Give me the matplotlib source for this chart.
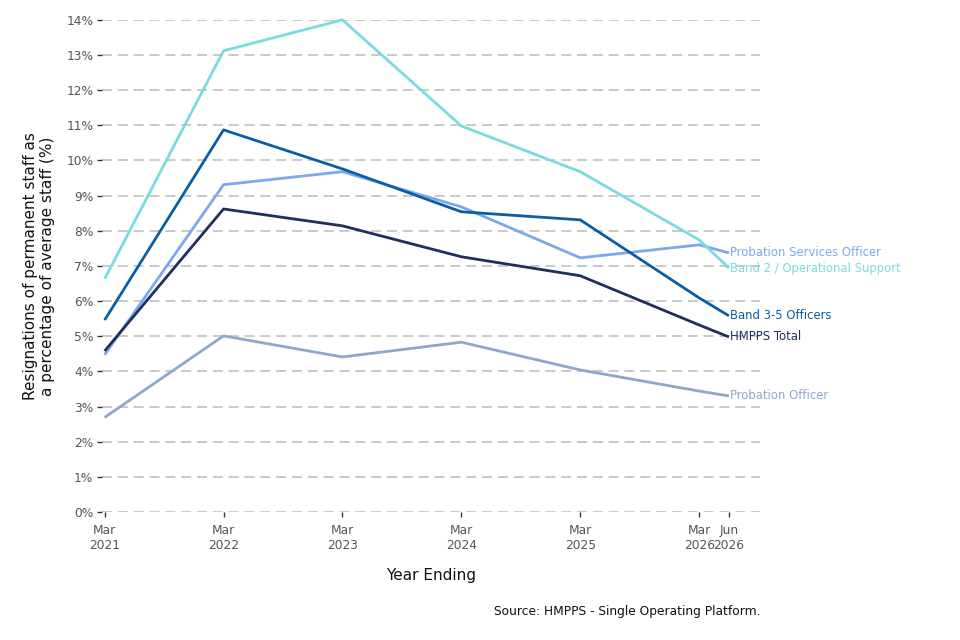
import matplotlib
matplotlib.use("Agg")
import matplotlib.pyplot as plt
from matplotlib.ticker import FuncFormatter

# x positions in years after Mar 2021
periods = [0.0, 1.0, 2.0, 3.0, 4.0, 5.0, 5.25]
tick_labels = ["Mar\n2021", "Mar\n2022", "Mar\n2023", "Mar\n2024", "Mar\n2025", "Mar\n2026", "Jun\n2026"]

band2 = [6.63, 13.12, 14.0, 10.98, 9.68, 7.74, 6.94]
band35 = [5.46, 10.87, 9.76, 8.54, 8.31, 6.09, 5.58]
pso = [4.47, 9.31, 9.68, 8.68, 7.23, 7.60, 7.37]
total = [4.58, 8.62, 8.14, 7.26, 6.72, 5.32, 4.98]
po = [2.69, 5.01, 4.41, 4.83, 4.04, 3.44, 3.30]

series = [
    ("Probation Services Officer", pso, "#7ba8ef"),
    ("Band 2 / Operational Support", band2, "#79dbe0"),
    ("Band 3-5 Officers", band35, "#0b5ea3"),
    ("HMPPS Total", total, "#212f5e"),
    ("Probation Officer", po, "#8fa7cc"),
]

fig = plt.figure(figsize=(9.6, 6.4), dpi=100)
ax = fig.add_axes([0.1065, 0.2, 0.685, 0.769])

for name, vals, col in series:
    ax.plot(periods, vals, color=col, lw=2, solid_capstyle="butt", clip_on=False)
    ax.text(periods[-1] + 0.005, vals[-1], name, color=col, fontsize=8.4,
            va="center", ha="left")

ax.set_xlim(-0.02, 5.51)
ax.set_ylim(0, 14)
ax.set_yticks(range(0, 15))
ax.yaxis.set_major_formatter(FuncFormatter(lambda v, p: f"{int(v)}%"))
ax.set_xticks(periods)
ax.set_xticklabels(tick_labels)
ax.yaxis.grid(True, color="#c0c0c0", linestyle=(0, (6, 3.5)), lw=1.2)
ax.set_axisbelow(True)
for s in ax.spines.values():
    s.set_visible(False)
ax.tick_params(axis="both", labelsize=8.8, labelcolor="#555555", color="#333333",
               length=3.5, width=1)
ax.tick_params(axis="x", pad=5)
ax.tick_params(axis="y", pad=3)

ax.set_ylabel("Resignations of permanent staff as\na percentage of average staff (%)",
              fontsize=11, color="#111111", labelpad=8)
ax.set_xlabel("Year Ending", fontsize=11, color="#111111", labelpad=12)

fig.text(0.792, 0.045, "Source: HMPPS - Single Operating Platform.", ha="right",
         va="center", fontsize=8.8, color="#111111")

fig.savefig("out.png", dpi=100)
